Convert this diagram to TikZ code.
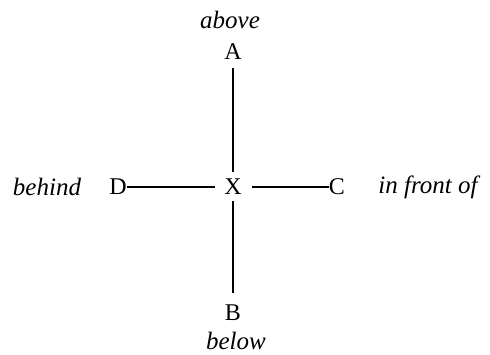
\documentclass[tikz,border=0pt]{standalone}
\usepackage{fontspec}
\setmainfont{Liberation Serif}
\tikzset{letter/.style={font=\fontsize{24}{28}\selectfont,inner sep=0pt},word/.style={font=\fontsize{25}{29}\selectfont\itshape,inner sep=0pt},link/.style={line width=1.4pt}}

\begin{document}
\begin{tikzpicture}[x=1pt,y=-1pt]
\useasboundingbox (0,0) rectangle (490,355);
\node[letter] (x) at (233,187) {X};
\node[letter] (a) at (233,52) {A};
\node[letter] (b) at (233,313) {B};
\node[letter] (d) at (118,187) {D};
\node[letter] (c) at (337,187) {C};
\node[word] (above) at (230,20) {above};
\node[word] (below) at (236,341) {below};
\node[word] (behind) at (47,187) {behind};
\node[word] (front) at (428,187) {in front of};
\draw[link, shorten <=8pt, shorten >=7pt] (a) -- (x);
\draw[link, shorten <=6pt, shorten >=12pt] (x) -- (b);
\draw[link, shorten >=9pt] (d) -- (x);
\draw[link, shorten <=10pt] (x) -- (c);
\end{tikzpicture}
\end{document}
